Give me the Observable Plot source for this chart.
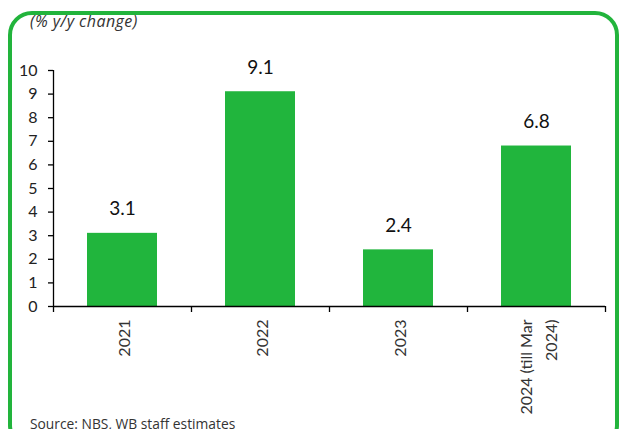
<!DOCTYPE html>
<html>
<head>
<meta charset="utf-8">
<script src="https://cdn.jsdelivr.net/npm/d3@7"></script>
<script src="https://cdn.jsdelivr.net/npm/@observablehq/plot@0.6"></script>
<style>
  html, body { margin: 0; padding: 0; background: #fff; overflow: hidden; }
  #wrap { position: relative; width: 621px; height: 429px; overflow: hidden; font-family: "Open Sans", Lato, sans-serif; }
  #border { position: absolute; left: 8px; top: 11px; width: 603px; height: 430px; border: 4px solid #22b43c; border-radius: 24px; }
  #title { position: absolute; left: 30px; top: 12px; font-size: 16px; letter-spacing: 0.45px; font-style: italic; color: #333; line-height: 19px; white-space: nowrap; }
  #caption { position: absolute; left: 30px; top: 416px; font-size: 13.8px; color: #333; line-height: 16px; white-space: nowrap; }
  #chart { position: absolute; left: 0; top: 0; }
</style>
</head>
<body>
<div id="wrap">
  <div id="border"></div>
  <div id="chart"></div>
  <div id="title">(% y/y change)</div>
  <div id="caption">Source: NBS, WB staff estimates</div>
</div>
<script>
const categories = ["2021", "2022", "2023", "2024 (till Mar\n2024)"];
const values = [3.1, 9.1, 2.4, 6.8];
const yTicks = [0, 1, 2, 3, 4, 5, 6, 7, 8, 9, 10];

const data = categories.map((c, i) => ({cat: c, value: values[i]}));

const W = 621, H = 429;
const mL = 53, mR = 16, mT = 70, mB = 123;
const step = (W - mL - mR) / categories.length;
const green = "#21b53d";
const ink = "#222";

const chart = Plot.plot({
  width: W,
  height: H,
  marginLeft: mL,
  marginRight: mR,
  marginTop: mT,
  marginBottom: mB,
  style: {fontFamily: "Lato, 'Open Sans', sans-serif", background: "transparent", color: ink},
  x: {domain: categories, paddingInner: 0.49, paddingOuter: 0.245, axis: null, label: null},
  y: {domain: [0, 10], axis: null, label: null},
  marks: [
    Plot.barY(data, {x: "cat", y: "value", fill: green}),
    Plot.ruleY([0], {stroke: "#000", strokeWidth: 1.3}),
    // y axis line + first boundary tick
    Plot.ruleX([categories[0]], {x: d => d, y1: () => 10, y2: () => 0, dx: -step / 2, insetBottom: -6, stroke: "#000", strokeWidth: 1.3}),
    // category boundary ticks
    Plot.ruleX(categories.slice(1), {x: d => d, y1: () => 0, y2: () => 0, dx: -step / 2, insetBottom: -6, stroke: "#000", strokeWidth: 1.3}),
    Plot.ruleX([categories[categories.length - 1]], {x: d => d, y1: () => 0, y2: () => 0, dx: step / 2, insetBottom: -6, stroke: "#000", strokeWidth: 1.3}),
    Plot.axisY({ticks: yTicks, label: null, tickSize: 5, tickPadding: 11, fontSize: 16, tickFormat: d => String(d), stroke: "#000", strokeWidth: 1.3, fill: ink}),
    Plot.axisX({label: null, tickSize: 0, tickRotate: -90, tickPadding: 13, fontSize: 16, lineHeight: 1.55, fill: "#333"}),
    Plot.text(data, {x: "cat", y: "value", text: d => d.value.toFixed(1), dy: -24, fontSize: 19, fill: "#111"})
  ]
});
document.getElementById("chart").appendChild(chart);
</script>
</body>
</html>
